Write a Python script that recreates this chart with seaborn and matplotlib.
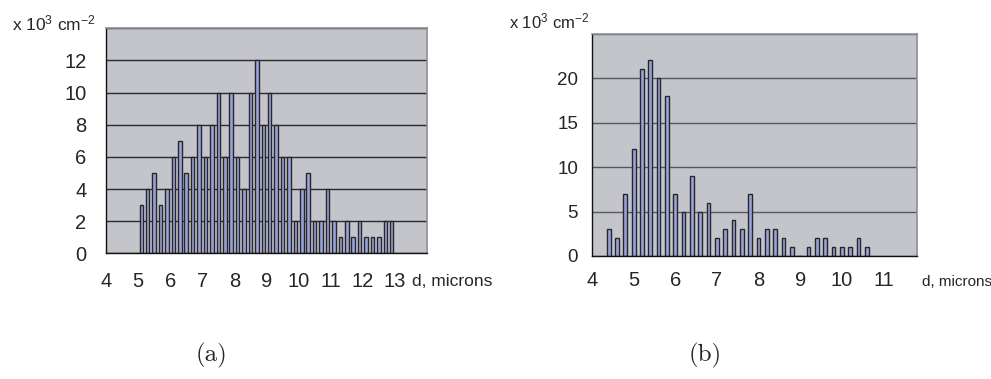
import matplotlib.pyplot as plt
import numpy as np
import seaborn as sns

# %% Data

# (a) bin centres, microns, and densities (x 10^3 cm^-2)
a_d = [5.1, 5.3, 5.5, 5.7, 5.9, 6.1, 6.3, 6.5, 6.7, 6.9,
       7.1, 7.3, 7.5, 7.7, 7.9, 8.1, 8.3, 8.5, 8.7, 8.9,
       9.1, 9.3, 9.5, 9.7, 9.9, 10.1, 10.3, 10.5, 10.7, 10.9,
       11.1, 11.3, 11.5, 11.7, 11.9, 12.1, 12.3, 12.5, 12.7, 12.9]
a_counts = [3, 4, 5, 3, 4, 6, 7, 5, 6, 8,
            6, 8, 10, 6, 10, 6, 4, 10, 12, 8,
            10, 8, 6, 6, 2, 4, 5, 2, 2, 4,
            2, 1, 2, 1, 2, 1, 1, 1, 2, 2]

# (b)
b_d = [4.4, 4.6, 4.8, 5.0, 5.2, 5.4, 5.6, 5.8, 6.0, 6.2,
       6.4, 6.6, 6.8, 7.0, 7.2, 7.4, 7.6, 7.8, 8.0, 8.2,
       8.4, 8.6, 8.8, 9.0, 9.2, 9.4, 9.6, 9.8, 10.0, 10.2,
       10.4, 10.6]
b_counts = [3, 2, 7, 12, 21, 22, 20, 18, 7, 5,
            9, 5, 6, 2, 3, 4, 3, 7, 2, 3,
            3, 2, 1, 0, 1, 2, 2, 1, 1, 1,
            2, 1]

a_xticks = [4, 5, 6, 7, 8, 9, 10, 11, 12, 13, 14]
a_xlabels = ["4", "5", "6", "7", "8", "9", "10", "11", "12", "13", ""]
a_yticks = [0, 2, 4, 6, 8, 10, 12, 14]
b_xticks = [4, 5, 6, 7, 8, 9, 10, 11]
b_yticks = [0, 5, 10, 15, 20, 25]

# %% Style

sns.set_style("white")
plt.rcParams["font.family"] = ["Liberation Sans", "DejaVu Sans"]
plt.rcParams["mathtext.fontset"] = "custom"
plt.rcParams["mathtext.rm"] = "Liberation Sans"
plt.rcParams["mathtext.it"] = "Liberation Sans"

FACE = "#c3c5cb"
BAR = "#9aa3d8"
EDGE = "#26262c"
FRAME = "#8c8f96"

W, H = 991, 379
fig = plt.figure(figsize=(W / 100, H / 100), dpi=100)
ax_a = fig.add_axes([106 / W, 1 - 253.3 / H, (427 - 106) / W, (253.3 - 28.3) / H])
ax_b = fig.add_axes([592 / W, 1 - 256 / H, (916.7 - 592) / W, (256 - 33.7) / H])


def style_axes(ax, grid_color):
    ax.set_facecolor(FACE)
    ax.set_axisbelow(True)
    ax.yaxis.grid(True, color=grid_color, lw=1.0)
    ax.xaxis.grid(False)
    for side in ("top", "right"):
        ax.spines[side].set_color(FRAME)
        ax.spines[side].set_linewidth(1.2)
    for side in ("left", "bottom"):
        ax.spines[side].set_color("#111111")
        ax.spines[side].set_linewidth(1.0)
    ax.set_xlabel("")
    ax.set_ylabel("")


# %% (a)

sns.barplot(x=a_d, y=a_counts, native_scale=True, orient="x", width=0.55,
            color=BAR, saturation=1, edgecolor=EDGE, linewidth=1.0, ax=ax_a)
style_axes(ax_a, "#2a2a2a")
ax_a.set_xlim(4, 14)
ax_a.set_ylim(0, 14)
ax_a.set_xticks(a_xticks, a_xlabels)
ax_a.set_yticks(a_yticks, [str(v) for v in a_yticks[:-1]] + [""])
ax_a.tick_params(axis="x", length=6, width=1, pad=7.5, labelsize=14.5, color="#555555")
ax_a.tick_params(axis="y", length=6, width=1, pad=8, labelsize=14.5, color="#111111")
ax_a.text(13.53, -1.78, "d, microns", fontsize=12.5, ha="left", va="center")
fig.text(12 / W, 1 - 30 / H, r"x 10$^3$ cm$^{-2}$", fontsize=12.5, ha="left", va="baseline")

# %% (b)

sns.barplot(x=b_d, y=b_counts, native_scale=True, orient="x", width=0.45,
            color=BAR, saturation=1, edgecolor=EDGE, linewidth=1.0, ax=ax_b)
style_axes(ax_b, "#55575c")
ax_b.set_xlim(4, 11.8)
ax_b.set_ylim(0, 25)
ax_b.set_xticks(b_xticks, [str(v) for v in b_xticks])
ax_b.set_xticks(np.arange(4, 11.81, 0.2), minor=True)
ax_b.set_yticks(b_yticks, [str(v) for v in b_yticks[:-1]] + [""])
ax_b.tick_params(axis="x", which="both", length=5, width=0.8, pad=6, labelsize=14.5, color="#777777")
ax_b.tick_params(axis="y", length=6, width=1, pad=4, labelsize=13.5, color="#111111")
ax_b.text(11.93, -2.92, "d, microns", fontsize=11, ha="left", va="center")
fig.text(509 / W, 1 - 28 / H, r"x 10$^3$ cm$^{-2}$", fontsize=12, ha="left", va="baseline")

# %% Captions

fig.text(211 / W, 1 - 355 / H, "(a)", family="cmr10", fontsize=18, ha="center", va="center")
fig.text(705 / W, 1 - 355 / H, "(b)", family="cmr10", fontsize=18, ha="center", va="center")

fig.savefig("out.png", dpi=100)
